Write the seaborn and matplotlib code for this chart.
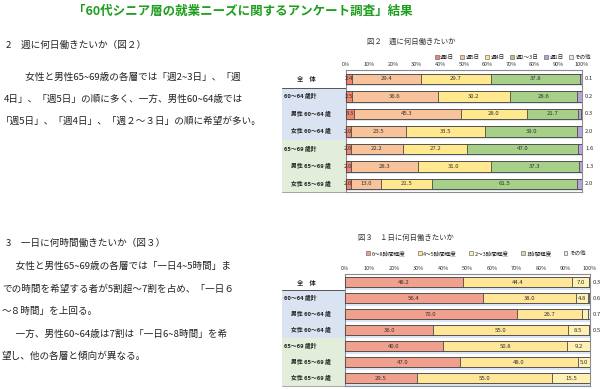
import matplotlib
matplotlib.use("Agg")
import matplotlib.pyplot as plt
import matplotlib.transforms as mtransforms
from matplotlib.patches import Patch, Rectangle
import seaborn as sns
import pandas as pd

sns.set_theme(style="white")
plt.rcParams['font.family'] = ['Noto Sans CJK JP', 'DejaVu Sans']

# ---------------- data ----------------
rows = ["全　体", "60～64 歳計", "男性 60～64 歳", "女性 60～64 歳",
        "65～69 歳計", "男性 65～69 歳", "女性 65～69 歳"]
row_indent = [0, 0, 1, 1, 0, 1, 1]

# 図2 週に何日働きたいか
days_cats = ["週6日", "週5日", "週4日", "週2～3日", "週1日", "その他"]
d_w6 = [2.4, 2.5, 3.3, 2.0, 2.0, 2.0, 2.0]
d_w5 = [29.4, 36.6, 45.3, 23.5, 22.2, 28.3, 13.0]
d_w4 = [29.7, 30.2, 28.0, 33.5, 27.2, 31.0, 21.5]
d_w23 = [37.8, 28.6, 21.7, 39.0, 47.0, 37.3, 61.5]
d_w1 = [0.6, 1.9, 1.4, 2.0, 1.6, 1.3, 2.0]
d_oth = [0.1, 0.2, 0.3, 0.0, 0.0, 0.1, 0.0]
d_right = ["0.1", "0.2", "0.3", "2.0", "1.6", "1.3", "2.0"]
days_colors = ["#F0856F", "#F8C29A", "#FFE88E", "#A6CF88", "#B9A2DA", "#DDEBF7"]

# 図3 1日に何時間働きたいか
hours_cats = ["6～8時間程度", "4～5時間程度", "2～3時間程度", "1時間程度", "その他"]
h_68 = [48.2, 56.4, 70.0, 36.0, 40.0, 47.0, 29.5]
h_45 = [44.4, 38.0, 26.7, 55.0, 50.8, 48.0, 55.0]
h_23 = [7.0, 4.8, 2.3, 8.5, 9.2, 5.0, 15.5]
h_1 = [0.1, 0.2, 0.3, 0.0, 0.0, 0.0, 0.0]
h_oth = [0.3, 0.6, 0.7, 0.5, 0.0, 0.0, 0.0]
h_right = ["0.3", "0.6", "0.7", "0.5", "", "", ""]
hours_colors = ["#F2A08E", "#FFE699", "#FFF0B3", "#C6E0B4", "#DDEBF7"]

ticks = list(range(0, 101, 10))
tick_labels = [f"{t}%" for t in ticks]

W, H = 600, 389
fig = plt.figure(figsize=(W / 100, H / 100), dpi=100)


def fx(x):
    return x / W


def fy(y):
    return 1 - y / H


def T(x, y, s, **kw):
    kw.setdefault("fontsize", 6.9)
    kw.setdefault("va", "center")
    kw.setdefault("color", "#222222")
    fig.text(fx(x), fy(y), s, **kw)


# ---------------- page text ----------------
T(243, 11, "「60代シニア層の就業ニーズに関するアンケート調査」結果",
  fontsize=9, fontweight="bold", color="#1E9E1E", ha="center")

T(6, 45, "2　週に何日働きたいか（図２）")
T(6, 77, "　　女性と男性65~69歳の各層では「週2~3日」、「週")
T(4, 99, "4日」、「週5日」の順に多く、一方、男性60~64歳では")
T(1, 121, "「週5日」、「週4日」、「週２～３日」の順に希望が多い。")

T(6, 243, "3　一日に何時間働きたいか（図３）")
T(6, 266, "　女性と男性65~69歳の各層では「一日4~5時間」ま")
T(2, 289, "での時間を希望する者が5割超～7割を占め、「一日６")
T(2, 311, "～８時間」を上回る。")
T(6, 334, "　一方、男性60~64歳は7割は「一日6~8時間」を希")
T(2, 356, "望し、他の各層と傾向が異なる。")


def stacked_chart(ax, series, colors, cats, right_labels, bar_w, min_lab, label_first):
    df = pd.DataFrame({"row": rows})
    for c, s in zip(cats, series):
        df[c] = s
    cum = df[cats].cumsum(axis=1)
    for k in range(len(cats) - 1, -1, -1):
        sns.barplot(x=cum[cats[k]], y=df["row"], order=rows, orient="h",
                    color=colors[k], saturation=1, width=bar_w,
                    edgecolor="#4a4a4a", linewidth=0.6, ax=ax, zorder=3)
    ax.set_xlim(0, 100)
    ax.set_ylim(6.5, -0.5)
    ax.set_xlabel("")
    ax.set_ylabel("")
    ax.set_yticks([])
    ax.xaxis.tick_top()
    ax.set_xticks(ticks)
    ax.set_xticklabels(tick_labels, fontsize=4, color="#333333")
    ax.tick_params(axis="x", length=0, pad=2.5)
    for sp in ax.spines.values():
        sp.set_color("#8c8c8c")
        sp.set_linewidth(0.8)
    # pale bands under each bar
    for i in range(len(rows)):
        ax.axhspan(i + bar_w / 2, i + bar_w / 2 + 0.14, color="#DCE5F3", zorder=1, lw=0)
    # value labels
    for i in range(len(rows)):
        start = 0.0
        for k, c in enumerate(cats):
            v = df[c].iloc[i]
            if v >= min_lab or (k == 0 and label_first and v > 0):
                ax.text(start + v / 2, i, f"{v:.1f}", ha="center", va="center",
                        fontsize=4.3, color="#333333", zorder=5)
            start += v
        if right_labels[i]:
            ax.text(101.3, i, right_labels[i], ha="left", va="center",
                    fontsize=4.3, color="#333333", clip_on=False)
    # category column
    tr = mtransforms.blended_transform_factory(fig.transFigure, ax.transData)
    x0, x1 = fx(282), ax.get_position().x0
    ax.add_patch(Rectangle((x0, 0.5), x1 - x0, 3.0, transform=tr,
                           facecolor="#DAE3F1", edgecolor="none", clip_on=False, zorder=0))
    ax.add_patch(Rectangle((x0, 3.5), x1 - x0, 3.0, transform=tr,
                           facecolor="#E3EEDA", edgecolor="none", clip_on=False, zorder=0))
    ax.plot([x0, x1], [0.5, 0.5], transform=tr, color="#555555", lw=0.7, clip_on=False)
    ax.plot([x0, x1], [6.5, 6.5], transform=tr, color="#999999", lw=0.6, clip_on=False)
    for i, (r, ind) in enumerate(zip(rows, row_indent)):
        if i == 0:
            ax.text(fx(306), i, r, transform=tr, ha="center", va="center",
                    fontsize=4.5, fontweight="bold", color="#222222")
        else:
            ax.text(fx(284 + 7 * ind), i, r, transform=tr, ha="left", va="center",
                    fontsize=4.2, fontweight="bold", color="#222222")


# 図2
ax1 = fig.add_axes([fx(346), fy(192.5), fx(582) - fx(346), 122.5 / H])
stacked_chart(ax1, [d_w6, d_w5, d_w4, d_w23, d_w1, d_oth], days_colors,
              days_cats, d_right, 0.6, 5, True)
T(411, 42, "図２　週に何日働きたいか", fontsize=5.3, ha="center", color="#333333")
h1 = [Patch(facecolor=c, edgecolor="#555555", lw=0.4) for c in days_colors]
fig.legend(h1, days_cats, loc="center", bbox_to_anchor=(fx(513), fy(57)), ncol=6,
           fontsize=4, frameon=False, handlelength=0.7, handleheight=0.7,
           handletextpad=0.3, columnspacing=1.0, borderpad=0)

# 図3
ax2 = fig.add_axes([fx(345), fy(386), fx(590) - fx(345), 112 / H])
stacked_chart(ax2, [h_68, h_45, h_23, h_1, h_oth], hours_colors,
              hours_cats, h_right, 0.68, 4, False)
T(406, 238, "図３　１日に何日働きたいか", fontsize=5.3, ha="center", color="#333333")
h2 = [Patch(facecolor=c, edgecolor="#555555", lw=0.4) for c in hours_colors]
fig.legend(h2, hours_cats, loc="center", bbox_to_anchor=(fx(476), fy(253)), ncol=5,
           fontsize=4, frameon=False, handlelength=0.7, handleheight=0.7,
           handletextpad=0.3, columnspacing=2.2, borderpad=0)

fig.savefig("out.png", dpi=100)
